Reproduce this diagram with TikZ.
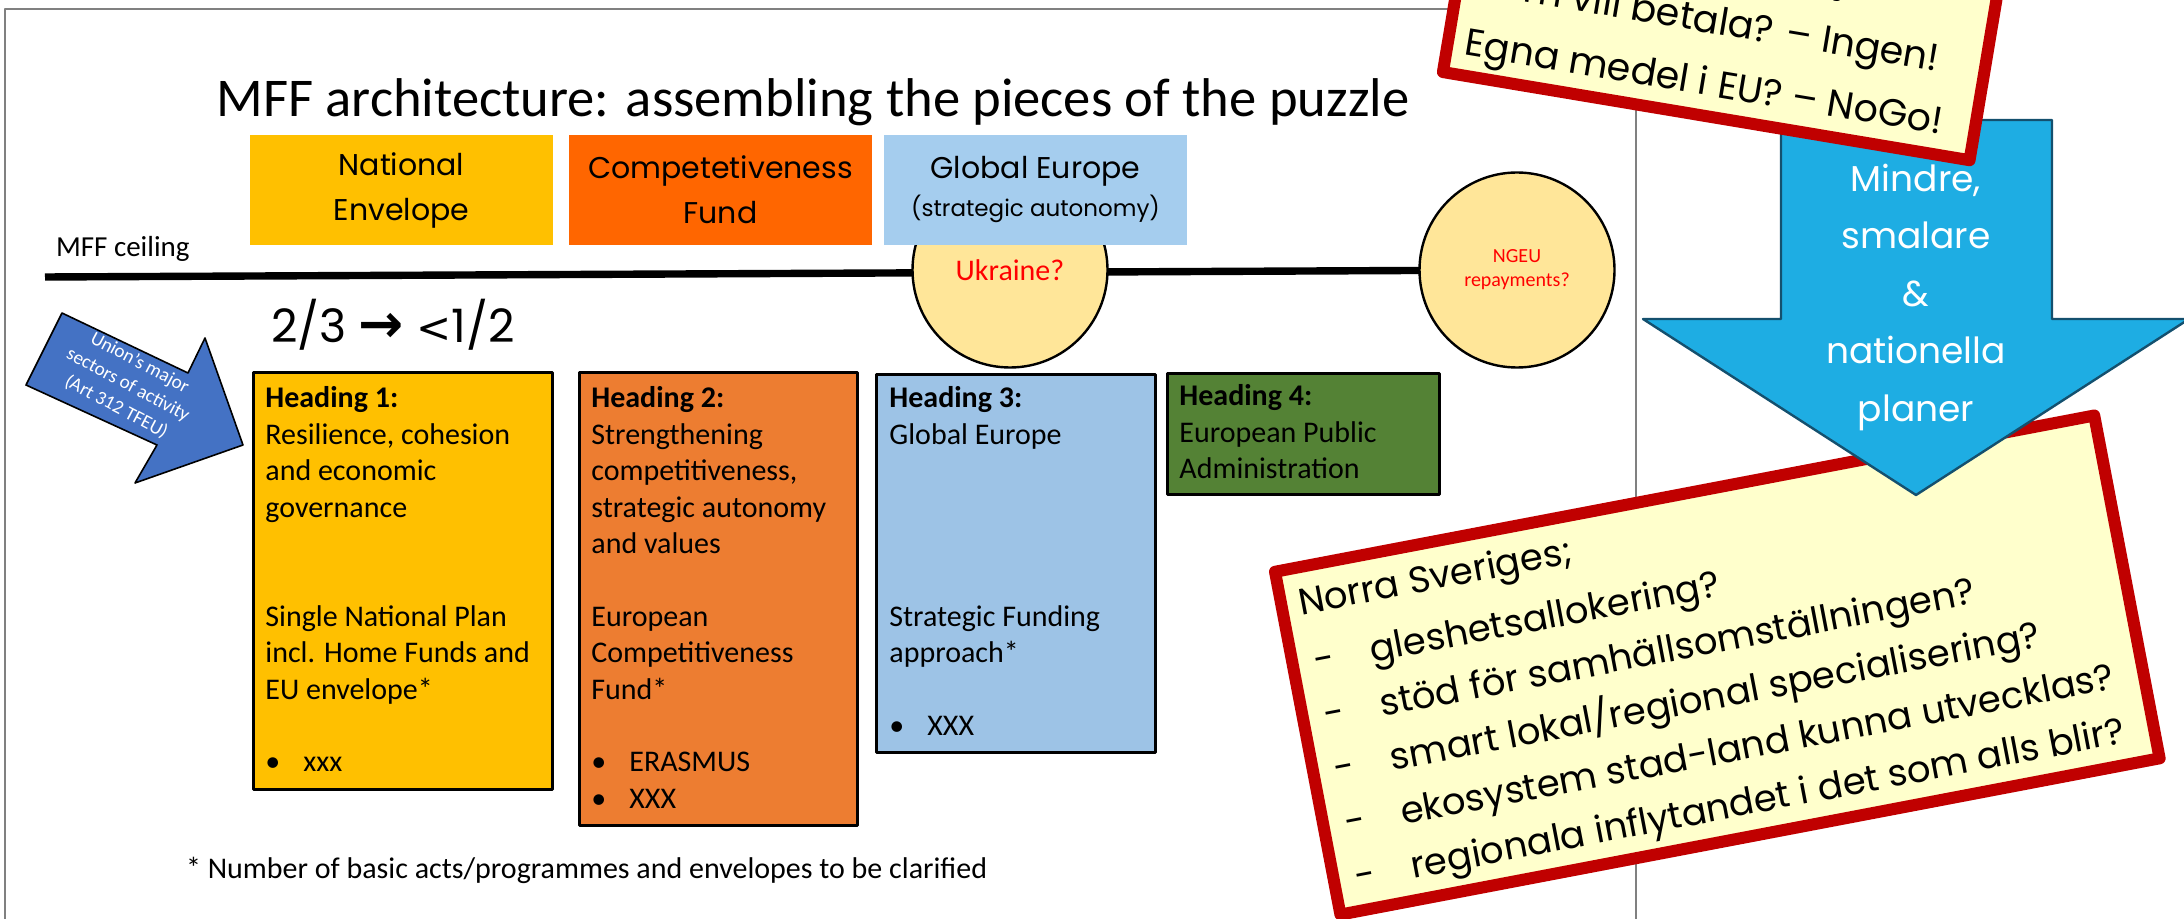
\documentclass[tikz,border=0pt]{standalone}
\usepackage{fontspec}
\setmainfont{Carlito}
\newfontfamily\futura{Poppins}
\newfontfamily\symb{DejaVu Sans}
\usetikzlibrary{positioning,backgrounds}

\definecolor{neyellow}{HTML}{FFC000}
\definecolor{cforange}{HTML}{FF6600}
\definecolor{geblue}{HTML}{A5CDEE}
\definecolor{hblue}{HTML}{9DC3E6}
\definecolor{horange}{HTML}{ED7D31}
\definecolor{hgreen}{HTML}{548235}
\definecolor{bubble}{HTML}{FFE699}
\definecolor{sector}{HTML}{4472C4}
\definecolor{cyanfill}{HTML}{1EADE3}
\definecolor{cyanline}{HTML}{14506E}
\definecolor{notered}{HTML}{C00000}
\definecolor{notefill}{HTML}{FFFFCC}

\newcommand\hbul{\makebox[19pt][l]{\textbullet}}
\newcommand\ndash{\makebox[30.5pt][l]{\hspace{2pt}-}}

\tikzset{
  topbox/.style={minimum width=151.5pt, minimum height=55pt, inner sep=0pt, align=center, font=\futura\fontsize{15}{22.5}\selectfont},
  headbox/.style={draw=black, line width=1.3pt, anchor=north west, inner sep=0pt},
  headtxt/.style={align=left, inner sep=0pt, font=\fontsize{15}{18.2}\selectfont},
  bubblenode/.style={circle, draw=black, line width=1.2pt, fill=bubble, minimum size=97.5pt, inner sep=0pt, text=red, align=center},
  note/.style={draw=notered, line width=6pt, fill=notefill, inner sep=0pt},
}

\begin{document}
\begin{tikzpicture}[x=0.5pt,y=-0.5pt,line join=round]
  \useasboundingbox (0,0) rectangle (2184,919);
  \clip (0,0) rectangle (2184,919);
  % slide frame
  \draw[gray, line width=1pt] (5,960) -- (5,9) -- (1636,9) -- (1636,960);

  \node[anchor=base, font=\fontsize{27.3}{31}\selectfont] (title) at (813,117) {MFF architecture: assembling the pieces of the puzzle};

  % the three pieces
  \node[topbox, fill=neyellow] (natenv) at (401.5,190) {National\\Envelope};
  \node[topbox, fill=cforange] (compfund) at (720.5,190) {Competetiveness\\Fund};
  \node[bubblenode, font=\fontsize{15}{18}\selectfont] (ukraine) at (1010,270) {Ukraine?};
  \node[topbox, fill=geblue] (globeur) at (1035.5,190) {Global Europe\\[-3.5pt]{\fontsize{11.5}{14}\selectfont (strategic autonomy)}};
  \node[bubblenode, font=\fontsize{10}{12}\selectfont] (ngeu) at (1517,270) {NGEU\\repayments?};

  % ceiling
  \node[anchor=base west, font=\fontsize{14.5}{17}\selectfont] (ceiling) at (49,257) {MFF ceiling};
  \coordinate (ceilstart) at (45,277);
  \begin{scope}[on background layer]
    \draw[line width=3.7pt] (ceilstart) -- (ngeu.center);
  \end{scope}

  \node[anchor=base west, font=\futura\fontsize{23}{26}\selectfont] (ratio) at (264,343) {2/3 {\symb\bfseries\fontsize{27}{30}\selectfont →} {\symb\fontsize{21}{26}\selectfont <}1/2};

  % headings
  \node[headbox, fill=neyellow, minimum width=149.7pt, minimum height=208.7pt] (h1) at (252,371) {};
  \node[headtxt, below right=5.5pt and 6.5pt of h1.north west] (h1txt) {\strut\textbf{Heading 1:}\\Resilience, cohesion\\and economic\\governance\\~\\~\\Single National Plan\\incl. Home Funds and\\EU envelope*\\~\\\hbul xxx};

  \node[headbox, fill=horange, minimum width=139.2pt, minimum height=226.7pt] (h2) at (578,371) {};
  \node[headtxt, below right=5.5pt and 6.5pt of h2.north west] (h2txt) {\strut\textbf{Heading 2:}\\Strengthening\\competitiveness,\\strategic autonomy\\and values\\~\\European\\Competitiveness\\Fund*\\~\\\hbul ERASMUS\\\hbul XXX};

  \node[headbox, fill=hblue, minimum width=139.7pt, minimum height=189.2pt] (h3) at (875,373) {};
  \node[headtxt, below right=4.5pt and 7pt of h3.north west] (h3txt) {\strut\textbf{Heading 3:}\\Global Europe\\~\\~\\~\\~\\Strategic Funding\\approach*\\~\\\hbul XXX};

  \node[headbox, fill=hgreen, minimum width=136.2pt, minimum height=60.7pt] (h4) at (1166,372) {};
  \node[headtxt, below right=4pt and 6.5pt of h4.north west] (h4txt) {\strut\textbf{Heading 4:}\\European Public\\Administration};

  \node[anchor=base west, font=\fontsize{15}{18}\selectfont] (footnote) at (179,878) {* Number of basic acts/programmes and envelopes to be clarified};

  % Art 312 arrow
  \draw[fill=sector, draw=black, line width=0.8pt] (62,313) -- (188,373) -- (205,338) -- (243,445) -- (135,483) -- (157,445) -- (26,385) -- cycle;
  \node[rotate=-28, text=white, align=center, inner sep=0pt, font=\fontsize{9.6}{12.5}\selectfont] (sectors) at (128,385) {Union’s major\\sectors of activity\\(Art 312 TFEU)};

  % notes on the right
  \begin{scope}[shift={(1268,567)}, rotate=10.8, transform shape]
    \node[note, anchor=north west, minimum width=417pt, minimum height=174.5pt] (regnote) at (0,0) {};
    \node[anchor=north west, inner sep=0pt, align=left, font=\futura\fontsize{18.5}{27.5}\selectfont] (regtxt) at (23,14.5) {\strut Norra Sveriges;\\[2.5pt]\ndash gleshetsallokering?\\\ndash stöd för samhällsomställningen?\\\ndash smart lokal/regional specialisering?\\\ndash ekosystem stad-land kunna utvecklas?\\\ndash regionala inflytandet i det som alls blir?};
  \end{scope}

  \draw[fill=cyanfill, draw=cyanline, line width=1.2pt] (1781,120) -- (2052,120) -- (2052,319) -- (2189,319) -- (1916,495) -- (1643,319) -- (1781,319) -- cycle;
  \node[text=white, align=center, inner sep=0pt, font=\futura\fontsize{18}{28.75}\selectfont] (smaller) at (1916,297) {Mindre,\\smalare\\\&\\nationella\\planer};

  \begin{scope}[shift={(1436,77)}, rotate=-9.5, transform shape]
    \node[note, anchor=south west, minimum width=267pt, minimum height=130pt] (eunote) at (0,0) {};
    \node[anchor=south west, inner sep=0pt, align=left, font=\futura\fontsize{19}{31}\selectfont] (eutxt) at (23,-7.4) {Större budget? – Nja!\\Vem vill betala? – Ingen!\\Egna medel i EU? – NoGo!\strut};
  \end{scope}
\end{tikzpicture}
\end{document}
